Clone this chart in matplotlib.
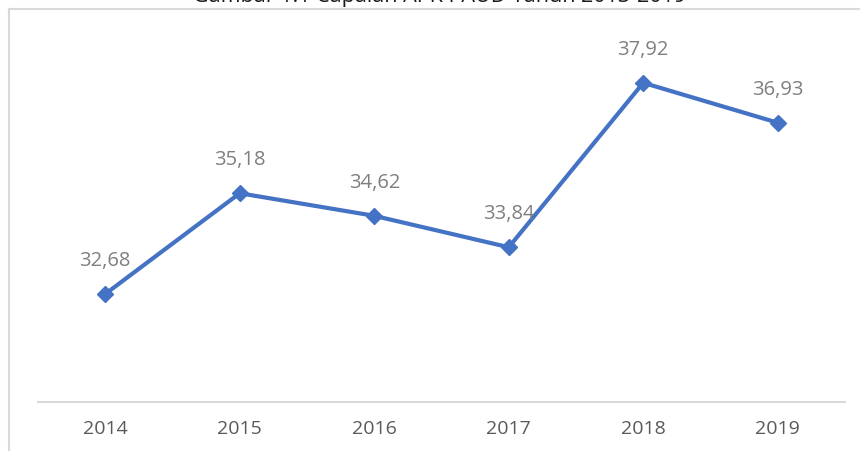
import matplotlib
matplotlib.use('Agg')
from matplotlib import pyplot as plt
from matplotlib.lines import Line2D

tahun = ['2014', '2015', '2016', '2017', '2018', '2019']
apk = [32.68, 35.18, 34.62, 33.84, 37.92, 36.93]
label = ['32,68', '35,18', '34,62', '33,84', '37,92', '36,93']

plt.rcParams['font.family'] = ['Open Sans', 'DejaVu Sans']

fig = plt.figure(figsize=(8.6, 4.52), dpi=100)
ax = fig.add_axes([38 / 860, 49 / 452, 807 / 860, 403 / 452])

x = list(range(len(tahun)))
ax.plot(x, apk, color='#4472C4', linewidth=3, marker='D', markersize=8.5,
        solid_joinstyle='round', zorder=3)

for xi, yi, t in zip(x, apk, label):
    ax.annotate(t, (xi, yi), xytext=(0, 24.5), textcoords='offset points',
                ha='center', va='center', fontsize=14.5, color='#7F7F7F')

ax.set_xlim(-0.5, len(tahun) - 0.5)
ax.set_ylim(30, 40)
ax.set_xticks(x)
ax.set_xticklabels(tahun, fontsize=14, color='#595959')
ax.tick_params(axis='x', length=0, pad=12)
ax.set_yticks([])
for s in ['top', 'right', 'left']:
    ax.spines[s].set_visible(False)
ax.spines['bottom'].set_color('#D9D9D9')
ax.spines['bottom'].set_linewidth(1.5)

# bingkai gambar
fig.add_artist(Line2D([9 / 860, 9 / 860], [0, 442 / 452], transform=fig.transFigure,
                      color='#D9D9D9', linewidth=1.5))
fig.add_artist(Line2D([9 / 860, 1], [442 / 452, 442 / 452], transform=fig.transFigure,
                      color='#D9D9D9', linewidth=1.5))

# judul terpotong di atas seperti pada gambar asli
fig.text(440 / 860, 450 / 452, 'Gambar 1.1 Capaian APK PAUD Tahun 2013-2019',
         ha='center', va='baseline', fontsize=15.5, color='#1a1a1a')

fig.savefig('out.png', dpi=100)
